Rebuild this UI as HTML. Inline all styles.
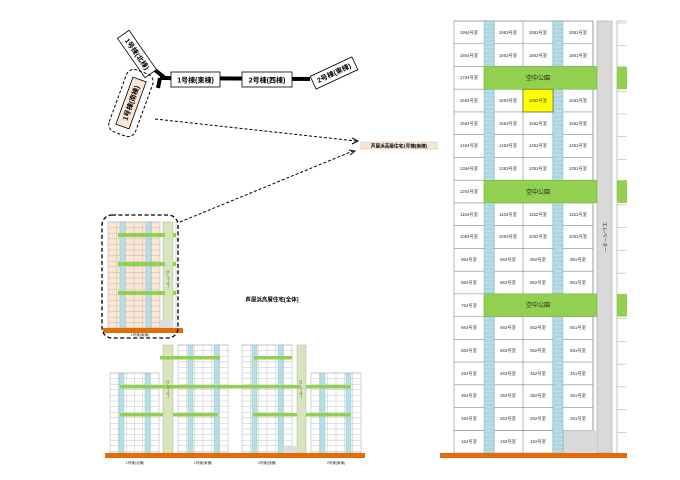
<!DOCTYPE html>
<html><head><meta charset="utf-8"><style>
html,body{margin:0;padding:0;background:#fff;width:680px;height:480px;overflow:hidden}
svg{display:block}
text{font-family:"Liberation Sans","Noto Sans CJK JP",sans-serif}
</style></head><body>
<svg id="s" width="680" height="480" viewBox="0 0 680 480" xmlns="http://www.w3.org/2000/svg">
<g id="geo"></g>
<g stroke="#000" fill="none">
<line x1="160" y1="78" x2="310" y2="79" stroke-width="4"/>
<line x1="155" y1="70" x2="165" y2="78" stroke-width="4"/>
<line x1="160" y1="78" x2="158" y2="88" stroke-width="4"/>
</g>
<g font-size="7" text-anchor="middle" font-weight="bold">
<rect x="171" y="72" width="49" height="15" fill="#fff" stroke="#000" stroke-width="0.8"/>
<text x="195.5" y="82.5">1号棟(東棟)</text>
<rect x="242" y="72" width="50" height="15" fill="#fff" stroke="#000" stroke-width="0.8"/>
<text x="267" y="82.5">2号棟(西棟)</text>
<g transform="translate(334,73) rotate(-25)"><rect x="-23" y="-7" width="46" height="14" fill="#fff" stroke="#000" stroke-width="0.8"/><text y="2.5">2号棟(東棟)</text></g>
<g transform="translate(137,54) rotate(55)"><rect x="-24" y="-7" width="48" height="14" fill="#fff" stroke="#000" stroke-width="0.8"/><text y="2.5">1号棟(北棟)</text></g>
<g transform="translate(131,103) rotate(-70)"><rect x="-25" y="-7" width="50" height="14" fill="#fbe6d4" stroke="#000" stroke-width="0.8"/><text y="2.5">1号棟(南棟)</text>
<rect x="-33" y="-14" width="66" height="28" rx="8" fill="none" stroke="#000" stroke-width="1" stroke-dasharray="3,2"/></g>
</g>
<g stroke="#000" stroke-width="1" stroke-dasharray="3,2" fill="none">
<line x1="155" y1="119" x2="356" y2="141"/>
<line x1="180" y1="222" x2="353" y2="151"/>
</g>
<g stroke="#000" stroke-width="1" fill="none">
<polyline points="352,138 358,141 352,144"/>
<polyline points="349,150 355,151 350,155"/>
</g>
<rect x="361" y="142" width="76" height="7" fill="#fbe6d4" stroke="#bbb" stroke-width="0.5"/>
<text x="399" y="147.5" font-size="4.6" text-anchor="middle" font-weight="bold">芦屋浜高層住宅1号棟(南棟)</text>
<text x="272" y="301.5" font-size="5.5" text-anchor="middle" font-weight="bold">芦屋浜高層住宅[全体]</text>
<rect x="102" y="215" width="76" height="123" rx="10" fill="none" stroke="#000" stroke-width="1.3" stroke-dasharray="4,2.5"/>
<g font-size="3.5" text-anchor="middle" fill="#333">
<text x="135" y="464">1号棟(北棟)</text><text x="203" y="464">1号棟(東棟)</text><text x="267" y="464">2号棟(西棟)</text><text x="336" y="464">2号棟(東棟)</text>
<text x="140" y="336">1号棟(南棟)</text>
</g>
<g font-size="4.3" text-anchor="middle" fill="#333">
<text x="469" y="34">1964号室</text><text x="508" y="34">1963号室</text><text x="538" y="34">1952号室</text><text x="578" y="34">1951号室</text>
<text x="469" y="57">1864号室</text><text x="508" y="57">1863号室</text><text x="538" y="57">1852号室</text><text x="578" y="57">1851号室</text>
<text x="469" y="79">1764号室</text>
<text x="469" y="102">1664号室</text><text x="508" y="102">1663号室</text><text x="538" y="102">1652号室</text><text x="578" y="102">1651号室</text>
<text x="469" y="125">1564号室</text><text x="508" y="125">1563号室</text><text x="538" y="125">1552号室</text><text x="578" y="125">1551号室</text>
<text x="469" y="147">1464号室</text><text x="508" y="147">1463号室</text><text x="538" y="147">1452号室</text><text x="578" y="147">1451号室</text>
<text x="469" y="170">1364号室</text><text x="508" y="170">1363号室</text><text x="538" y="170">1352号室</text><text x="578" y="170">1351号室</text>
<text x="469" y="193">1264号室</text>
<text x="469" y="216">1164号室</text><text x="508" y="216">1163号室</text><text x="538" y="216">1152号室</text><text x="578" y="216">1151号室</text>
<text x="469" y="238">1064号室</text><text x="508" y="238">1063号室</text><text x="538" y="238">1052号室</text><text x="578" y="238">1051号室</text>
<text x="469" y="261">964号室</text><text x="508" y="261">963号室</text><text x="538" y="261">952号室</text><text x="578" y="261">951号室</text>
<text x="469" y="284">864号室</text><text x="508" y="284">863号室</text><text x="538" y="284">852号室</text><text x="578" y="284">851号室</text>
<text x="469" y="307">764号室</text>
<text x="469" y="329">664号室</text><text x="508" y="329">663号室</text><text x="538" y="329">652号室</text><text x="578" y="329">651号室</text>
<text x="469" y="352">564号室</text><text x="508" y="352">563号室</text><text x="538" y="352">552号室</text><text x="578" y="352">551号室</text>
<text x="469" y="375">464号室</text><text x="508" y="375">463号室</text><text x="538" y="375">452号室</text><text x="578" y="375">451号室</text>
<text x="469" y="397">364号室</text><text x="508" y="397">363号室</text><text x="538" y="397">352号室</text><text x="578" y="397">351号室</text>
<text x="469" y="420">264号室</text><text x="508" y="420">263号室</text><text x="538" y="420">252号室</text><text x="578" y="420">251号室</text>
<text x="469" y="443">164号室</text><text x="508" y="443">163号室</text><text x="538" y="443">152号室</text>
</g>
<g font-size="6" text-anchor="middle" fill="#222">
<text x="538" y="80">空中公園</text><text x="538" y="194">空中公園</text><text x="538" y="307">空中公園</text>
</g>
<text x="0" y="0" font-size="5" fill="#333" transform="translate(603,222) rotate(90)">エレベーター</text>
<g font-size="3" fill="#333">
<text transform="translate(167,270) rotate(90)">エレベーター</text>
<text transform="translate(167,380) rotate(90)">エレベーター</text>
<text transform="translate(300,380) rotate(90)">エレベーター</text>
</g>
</svg>
<script>
(function(){
var g=document.getElementById('geo'),NS='http://www.w3.org/2000/svg';
function R(x,y,w,h,f,s,sw){var r=document.createElementNS(NS,'rect');r.setAttribute('x',x);r.setAttribute('y',y);r.setAttribute('width',w);r.setAttribute('height',h);r.setAttribute('fill',f||'none');if(s){r.setAttribute('stroke',s);r.setAttribute('stroke-width',sw||0.5);}g.appendChild(r);}
function L(x1,y1,x2,y2,s,sw){var l=document.createElementNS(NS,'line');l.setAttribute('x1',x1);l.setAttribute('y1',y1);l.setAttribute('x2',x2);l.setAttribute('y2',y2);l.setAttribute('stroke',s||'#888');l.setAttribute('stroke-width',sw||0.5);g.appendChild(l);}
var T=21,rh=22.74;
R(454,T,139,rh*18,'#fff','#888',0.6);
R(597,T,15,432,'#d9d9d9','#999',0.5);
R(563,T+rh*18,34,rh,'#d9d9d9');
R(454,T+rh*18,109,rh,'#fff','#888',0.6);
L(617,T,617,453,'#999',0.6);L(617,T,627,T,'#999',0.6);
for(var i=0;i<19;i++){var y=T+i*rh;
 L(454,y,i<18?593:563,y,'#888',0.6);
 L(617,y+2,627,y+2,'#aaa',0.5);
 var park=(i==2||i==7||i==12);
 if(!park){[494,523,553].forEach(function(x){L(x,y,x,y+rh,'#888',0.6)});if(i<18)L(593,y,593,y+rh,'#888',0.6);}
}
[484,553].forEach(function(x){R(x,T,10,432,'#b7dde8','#7aa',0.4);for(var yy=T;yy<453;yy+=4)L(x,yy,x+10,yy,'#7aa',0.3);});
[2,7,12].forEach(function(i){var y=T+i*rh;R(484,y,113,rh,'#92d050','#6a3',0.4);R(617,y,10,rh,'#92d050');});
R(523,T+3*rh,30,rh,'#ffff00','#444',0.6);
R(440,453,187,5,'#e36c09');
function bld(x,y0,w,y1,stairs,peach){
 R(x,y0,w,y1-y0,peach?'#fbe6d4':'#fff','#999',0.4);
 for(var yy=y0;yy<y1;yy+=5.6)L(x,yy,x+w,yy,'#aaa',0.35);
 var cw=w/6;for(var k=1;k<6;k++)L(x+k*cw,y0,x+k*cw,y1,'#aaa',0.35);
 stairs.forEach(function(sx){R(sx,y0,5,y1-y0,'#b7dde8','#7aa',0.3);});
}
bld(108,222,52,328,[120,146],true);
R(163,222,10,106,'#d7e4bd','#9a8',0.4);
L(176,222,176,328,'#aaa',0.5);for(var yy=228;yy<328;yy+=11)L(176,yy,180,yy,'#aaa',0.4);
R(160,320,13,8,'#ddd');
[233,262,291].forEach(function(y){R(118,y,47,4,'#92d050');R(173,y,3,4,'#92d050');});
R(103,328,80,5,'#e36c09');
bld(110,373,49,453,[119,145]);
bld(178,345,50,453,[188,214]);
bld(242,345,50,453,[252,278]);
bld(311,373,50,453,[320,346]);
R(163,345,10,108,'#d7e4bd','#9a8',0.4);
R(297,345,9,108,'#d7e4bd','#9a8',0.4);
R(283,446,14,7,'#ddd');
R(160,356,60,3.5,'#92d050');R(254,356,38,3.5,'#92d050');
R(120,385,180,3.5,'#92d050');R(306,385,45,3.5,'#92d050');
R(120,413,43,3.5,'#92d050');R(173,413,45,3.5,'#92d050');R(253,413,44,3.5,'#92d050');R(306,413,45,3.5,'#92d050');
R(105,453,260,5,'#e36c09');
})();
</script>
</body></html>
